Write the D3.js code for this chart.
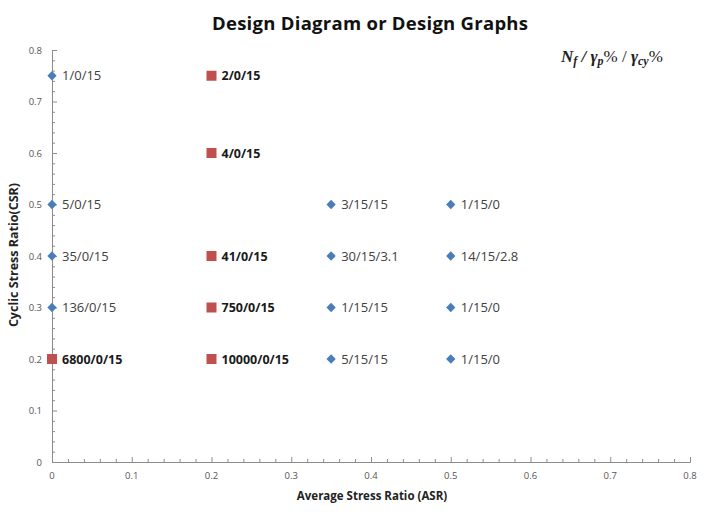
<!DOCTYPE html>
<html>
<head>
<meta charset="utf-8">
<script src="https://cdn.jsdelivr.net/npm/d3@7"></script>
<style>
  body { margin: 0; background: #fff; }
  svg { font-family: "Open Sans", "Noto Sans", sans-serif; }
</style>
</head>
<body>
<svg id="chart" width="706" height="520"></svg>
<script>
// Blue diamond series (normal labels)
const blueX = [0, 0, 0, 0, 0.35, 0.35, 0.35, 0.35, 0.5, 0.5, 0.5, 0.5];
const blueY = [0.75, 0.5, 0.4, 0.3, 0.5, 0.4, 0.3, 0.2, 0.5, 0.4, 0.3, 0.2];
const blueLabels = ['1/0/15', '5/0/15', '35/0/15', '136/0/15', '3/15/15', '30/15/3.1',
  '1/15/15', '5/15/15', '1/15/0', '14/15/2.8', '1/15/0', '1/15/0'];

// Red square series (bold labels)
const redX = [0.2, 0.2, 0.2, 0.2, 0.2, 0];
const redY = [0.75, 0.6, 0.4, 0.3, 0.2, 0.2];
const redLabels = ['2/0/15', '4/0/15', '41/0/15', '750/0/15', '10000/0/15', '6800/0/15'];

const xTicks = [0, 0.1, 0.2, 0.3, 0.4, 0.5, 0.6, 0.7, 0.8];
const yTicks = [0, 0.1, 0.2, 0.3, 0.4, 0.5, 0.6, 0.7, 0.8];
const minorStep = 0.02;

const svg = d3.select('#chart');
const plotLeft = 52, plotRight = 690, plotTop = 50, plotBottom = 462;

const x = d3.scaleLinear().domain([0, 0.8]).range([plotLeft, plotRight]);
const y = d3.scaleLinear().domain([0, 0.8]).range([plotBottom, plotTop]);

const minors = d3.range(0, 0.8001, minorStep);
const axisColor = '#8c8c8c';

// Title
svg.append('text')
  .attr('x', 370).attr('y', 30)
  .attr('text-anchor', 'middle')
  .style('font-size', '18.5px').style('font-weight', 'bold')
  .attr('fill', '#111')
  .attr('textLength', 316)
  .text('Design Diagram or Design Graphs');

// X axis
const xAxis = svg.append('g').attr('transform', `translate(0,${plotBottom})`);
xAxis.call(d3.axisBottom(x).tickValues(minors).tickSize(-3).tickFormat(''));
xAxis.select('.domain').attr('stroke', axisColor);
xAxis.selectAll('line').attr('stroke', axisColor);
xAxis.selectAll('.tick')
  .filter(d => xTicks.some(t => Math.abs(t - d) < 1e-9))
  .select('line').attr('y2', -5);

svg.append('g').selectAll('text')
  .data(xTicks).enter().append('text')
  .attr('x', d => x(d)).attr('y', plotBottom + 17)
  .attr('text-anchor', 'middle')
  .style('font-size', '9.5px').attr('fill', '#555')
  .text(d => d3.format('')(d));

// Y axis
const yAxis = svg.append('g').attr('transform', `translate(${plotLeft},0)`);
yAxis.call(d3.axisLeft(y).tickValues(minors).tickSize(-3).tickFormat(''));
yAxis.select('.domain').attr('stroke', axisColor);
yAxis.selectAll('line').attr('stroke', axisColor);
yAxis.selectAll('.tick')
  .filter(d => yTicks.some(t => Math.abs(t - d) < 1e-9))
  .select('line').attr('x2', 5);

svg.append('g').selectAll('text')
  .data(yTicks).enter().append('text')
  .attr('x', plotLeft - 10).attr('y', d => y(d) + 3.5)
  .attr('text-anchor', 'end')
  .style('font-size', '9.5px').attr('fill', '#555')
  .text(d => d3.format('')(d));

// Axis titles
svg.append('text')
  .attr('x', 372).attr('y', 500)
  .attr('text-anchor', 'middle')
  .style('font-size', '11.5px').style('font-weight', 'bold')
  .attr('fill', '#222')
  .text('Average Stress  Ratio (ASR)');

svg.append('text')
  .attr('transform', 'translate(18,255) rotate(-90)')
  .attr('text-anchor', 'middle')
  .style('font-size', '12.5px').style('font-weight', 'bold')
  .attr('fill', '#222')
  .text('Cyclic Stress Ratio(CSR)');

const blue = blueX.map((d, i) => ({ x: d, y: blueY[i], label: blueLabels[i] }));
const red = redX.map((d, i) => ({ x: d, y: redY[i], label: redLabels[i] }));

// Blue diamonds
svg.append('g').selectAll('path')
  .data(blue).enter().append('path')
  .attr('d', d3.symbol().type(d3.symbolDiamond2).size(55))
  .attr('transform', d => `translate(${x(d.x)},${y(d.y)})`)
  .attr('fill', '#4a7ebb');

svg.append('g').selectAll('text')
  .data(blue).enter().append('text')
  .attr('x', d => x(d.x) + 10).attr('y', d => y(d.y) + 4.5)
  .style('font-size', '13px').attr('fill', '#404040')
  .text(d => d.label);

// Red squares
svg.append('g').selectAll('rect')
  .data(red).enter().append('rect')
  .attr('x', d => x(d.x) - 5).attr('y', d => y(d.y) - 5)
  .attr('width', 10).attr('height', 10)
  .attr('fill', '#c0504d');

svg.append('g').selectAll('text')
  .data(red).enter().append('text')
  .attr('x', d => x(d.x) + 10).attr('y', d => y(d.y) + 4.5)
  .style('font-size', '12.5px').style('font-weight', 'bold').attr('fill', '#1a1a1a')
  .text(d => d.label);

// Label key
const key = svg.append('text')
  .attr('x', 561).attr('y', 62)
  .style('font-family', '"Liberation Serif", "DejaVu Serif", serif')
  .style('font-size', '17px').style('font-weight', 'bold').style('font-style', 'italic')
  .attr('fill', '#222');
key.append('tspan').text('N');
key.append('tspan').attr('dy', 3).style('font-size', '12px').text('f');
key.append('tspan').attr('dy', -3).text(' / γ');
key.append('tspan').attr('dy', 3).style('font-size', '12px').text('p');
key.append('tspan').attr('dy', -3).style('font-style', 'normal').style('font-weight', 'normal').text('% / ');
key.append('tspan').text('γ');
key.append('tspan').attr('dy', 3).style('font-size', '12px').text('cy');
key.append('tspan').attr('dy', -3).style('font-style', 'normal').style('font-weight', 'normal').text('%');
</script>
</body>
</html>
